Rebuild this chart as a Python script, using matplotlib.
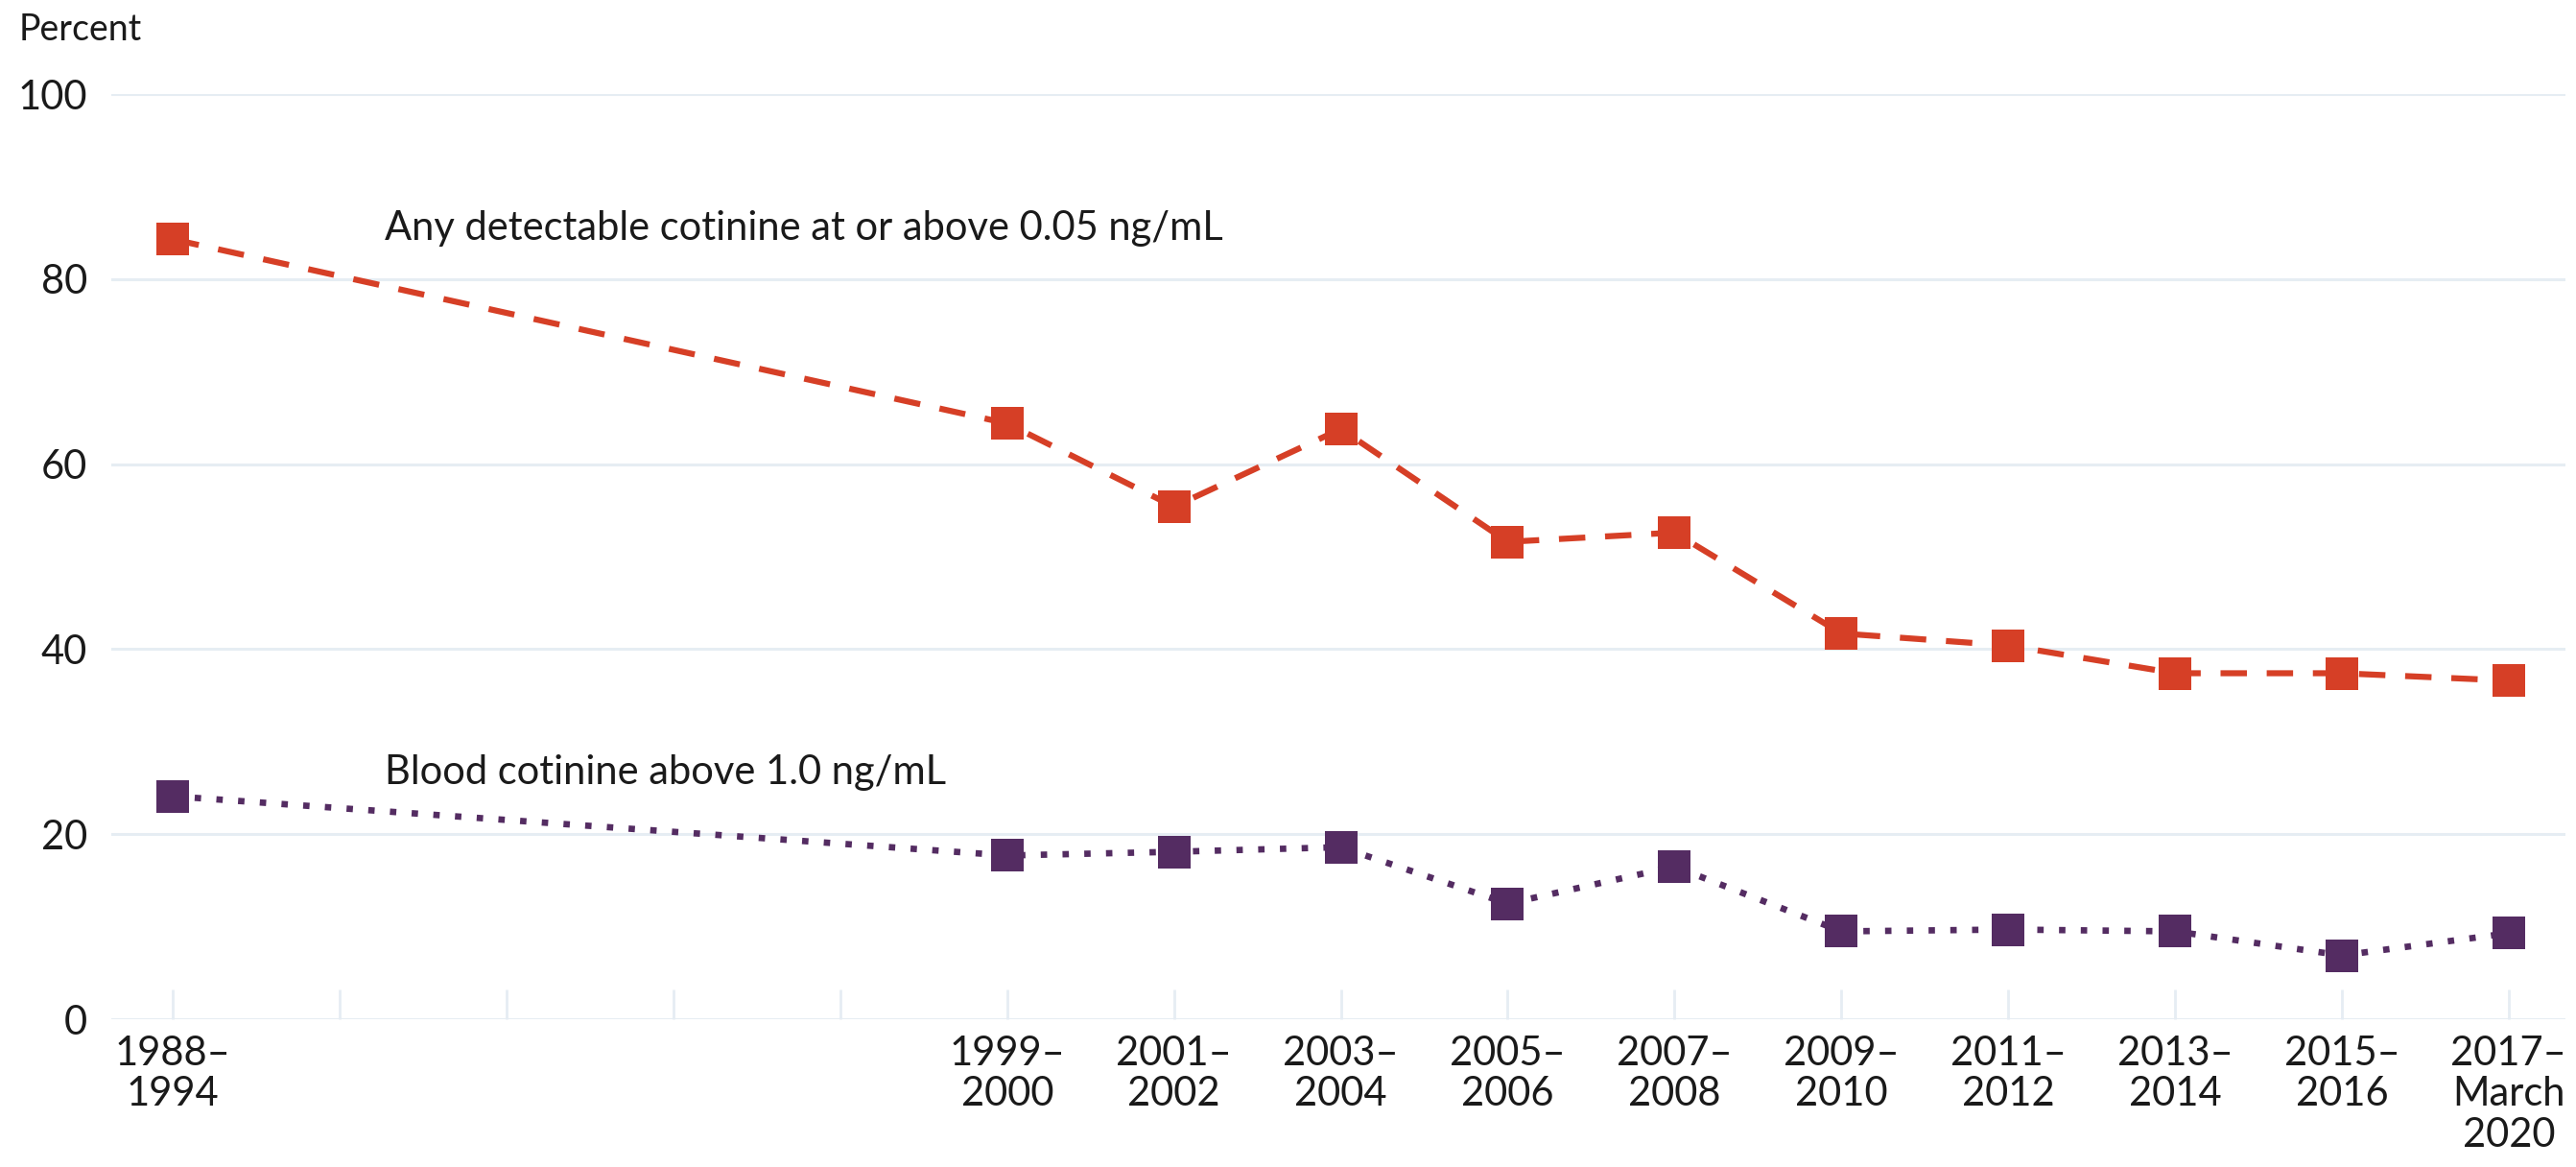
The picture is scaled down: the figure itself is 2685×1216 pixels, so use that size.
import matplotlib.pyplot as plt
import numpy as np

plt.rcParams['font.family'] = ['Lato', 'DejaVu Sans']

periods = ["1988–\n1994", "1999–\n2000", "2001–\n2002", "2003–\n2004", "2005–\n2006",
           "2007–\n2008", "2009–\n2010", "2011–\n2012", "2013–\n2014", "2015–\n2016",
           "2017–\nMarch\n2020"]
any_cotinine = [84.3, 64.4, 55.4, 63.8, 51.6, 52.6, 41.7, 40.4, 37.4, 37.4, 36.6]
blood_cotinine = [24.1, 17.7, 18.1, 18.6, 12.5, 16.5, 9.5, 9.7, 9.5, 6.9, 9.3]
yticks = [0, 20, 40, 60, 80, 100]

# 1988-1994 sits five two-year slots before 1999-2000
x_pos = [0] + list(range(5, 5 + len(periods) - 1))

grid_color = "#e6edf3"
red = "#d63f26"
purple = "#542c62"

fig = plt.figure(figsize=(26.85, 12.16), dpi=100)
ax = fig.add_axes([0.0432, 0.1266, 0.9527, 0.7928])

ax.plot(x_pos, any_cotinine, color=red, lw=4.5, linestyle=(0, (4.4, 3.3)),
        marker="s", markersize=25, markeredgewidth=0, clip_on=False, zorder=3)
ax.plot(x_pos, blood_cotinine, color=purple, lw=4.8, linestyle=(0, (1, 2.4)),
        marker="s", markersize=25, markeredgewidth=0, clip_on=False, zorder=3)

ax.text(1.27, 85.5, "Any detectable cotinine at or above 0.05 ng/mL", fontsize=30,
        va="center", ha="left", color="#1a1a1a")
ax.text(1.27, 26.7, "Blood cotinine above 1.0 ng/mL", fontsize=30,
        va="center", ha="left", color="#1a1a1a")

ax.set_xlim(-0.37, 14.34)
ax.set_ylim(0, 100)
ax.set_yticks(yticks)
ax.set_yticklabels([str(v) for v in yticks], fontsize=30, color="#1a1a1a")
ax.yaxis.grid(True, color=grid_color, lw=2.2)
ax.set_axisbelow(True)

all_slots = np.arange(0, 15)
ax.set_xticks(all_slots)
labels = [""] * len(all_slots)
for p, lab in zip(x_pos, periods):
    labels[p] = lab
ax.set_xticklabels(labels, fontsize=30, color="#1a1a1a", linespacing=1.15)
ax.tick_params(axis="x", direction="in", length=22, width=2, color=grid_color, pad=12)
ax.tick_params(axis="y", length=0, pad=18)

for s in ax.spines.values():
    s.set_visible(False)

fig.text(20 / 2685, 1 - 31 / 1216, "Percent", fontsize=27, va="center", ha="left",
         color="#1a1a1a")

fig.savefig("out.png", dpi=100, facecolor="white")
